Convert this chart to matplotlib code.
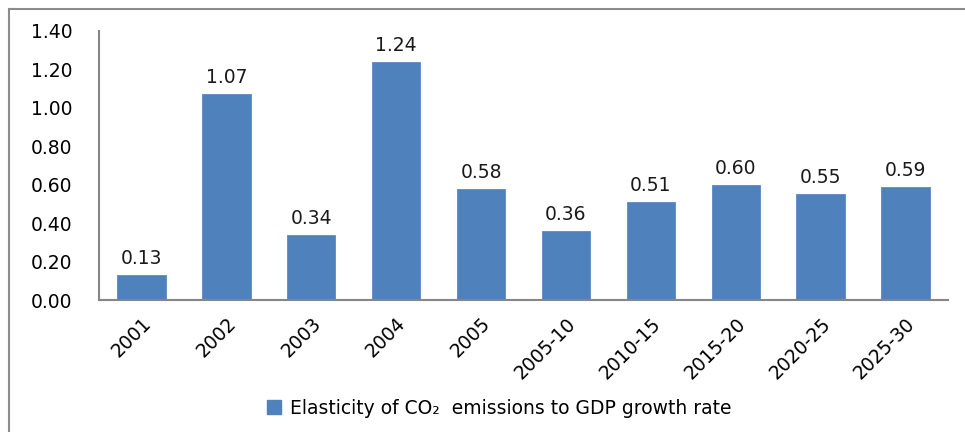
import matplotlib
matplotlib.use("Agg")
import matplotlib.pyplot as plt
from matplotlib.lines import Line2D
from matplotlib.patches import Patch

plt.rcParams['font.family'] = ['DejaVu Sans']

categories = ["2001", "2002", "2003", "2004", "2005",
              "2005-10", "2010-15", "2015-20", "2020-25", "2025-30"]
elasticity = [0.13, 1.07, 0.34, 1.24, 0.58, 0.36, 0.51, 0.60, 0.55, 0.59]
yticks = [0.0, 0.2, 0.4, 0.6, 0.8, 1.0, 1.2, 1.4]
series_label = "Elasticity of CO\u2082  emissions to GDP growth rate"

bar_color = "#4F81BD"
axis_gray = "#868686"
W, H = 965, 432
FS = 13.5

fig = plt.figure(figsize=(W / 100, H / 100), dpi=100)
ax = fig.add_axes([99 / W, 1 - 300 / H, (948 - 99) / W, (300 - 31) / H])

x = range(len(categories))
ax.bar(x, elasticity, width=0.57, color=bar_color, edgecolor="#5A8AC6", linewidth=0.6)

for xi, v in zip(x, elasticity):
    ax.annotate(f"{v:.2f}", (xi, v), xytext=(0, 5), textcoords="offset points",
                ha="center", va="bottom", fontsize=FS, color="#1a1a1a")

ax.set_xlim(-0.5, len(categories) - 0.5)
ax.set_ylim(0, 1.4)
ax.set_yticks(yticks)
ax.set_yticklabels([f"{t:.2f}" for t in yticks], fontsize=FS)
ax.set_xticks(list(x))
ax.set_xticklabels(categories, rotation=45, ha="right", rotation_mode="anchor", fontsize=FS)
ax.tick_params(axis="y", length=0, pad=19)
ax.tick_params(axis="x", length=0, pad=10)

for side in ("top", "right"):
    ax.spines[side].set_visible(False)
for side in ("left", "bottom"):
    ax.spines[side].set_color(axis_gray)
    ax.spines[side].set_linewidth(1.5)

# outer chart frame (left and top edges)
fig.add_artist(Line2D([8.5 / W, 8.5 / W], [0, 1 - 9 / H], transform=fig.transFigure,
                      color="#8C8C8C", linewidth=1.5))
fig.add_artist(Line2D([8.5 / W, 1], [1 - 9 / H, 1 - 9 / H], transform=fig.transFigure,
                      color="#8C8C8C", linewidth=1.5))

handle = Patch(facecolor=bar_color, edgecolor=bar_color)
fig.legend([handle], [series_label], loc="center", bbox_to_anchor=(499 / W, 1 - 408 / H),
           frameon=False, fontsize=FS, handlelength=0.75, handleheight=0.75,
           handletextpad=0.5)

fig.savefig("out.png", dpi=100)
